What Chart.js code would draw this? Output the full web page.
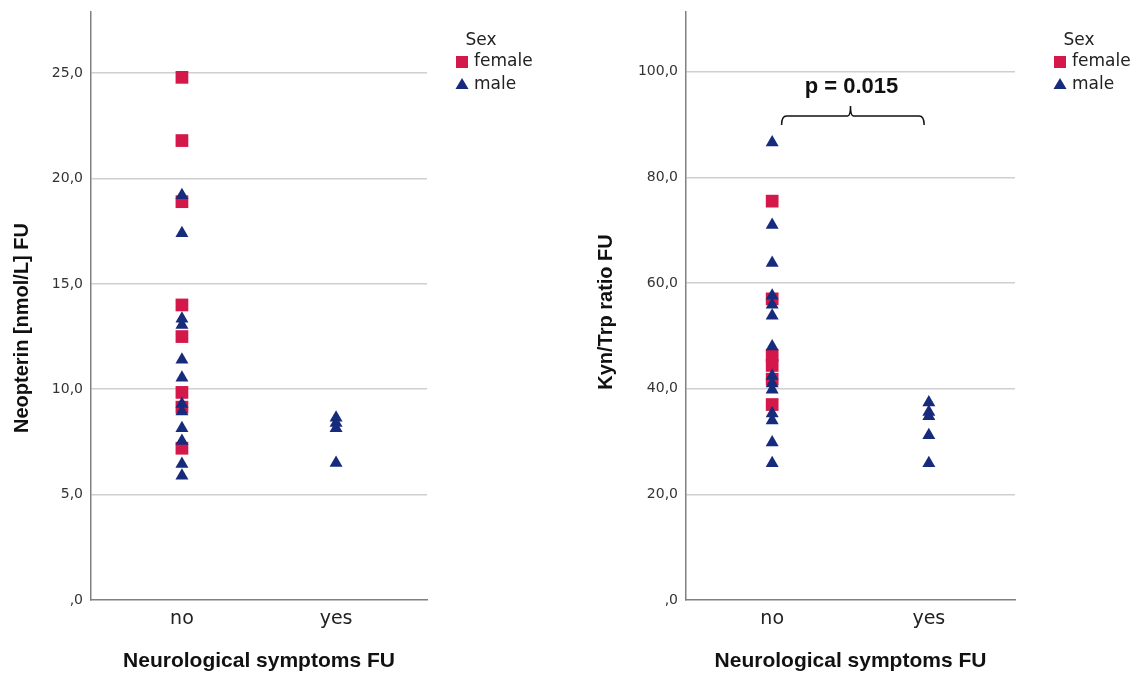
<!DOCTYPE html>
<html>
<head>
<meta charset="utf-8">
<script src="https://cdn.jsdelivr.net/npm/chart.js@4.4.1/dist/chart.umd.min.js"></script>
<style>
  html, body { margin: 0; padding: 0; background: #fff; }
  #wrap { position: relative; width: 1137px; height: 674px; }
  .box { position: absolute; top: 0; height: 674px; }
  #boxL { left: 0; width: 568px; }
  #boxR { left: 568px; width: 569px; }
</style>
</head>
<body>
<div id="wrap">
  <div class="box" id="boxL"><canvas id="chartNeo"></canvas></div>
  <div class="box" id="boxR"><canvas id="chartKyn"></canvas></div>
</div>
<script>
// ==== Données ====
const categories = ['no', 'yes'];
const sexLabels = ['female', 'male'];

// Neopterin [nmol/L] FU
const neoFemaleNo = [24.8, 21.8, 18.9, 14.0, 12.5, 9.85, 9.15, 7.2];
const neoMaleNo = [19.2, 17.4, 13.35, 13.05, 11.4, 10.55, 9.3, 8.95, 8.15, 7.55, 6.45, 5.9];
const neoFemaleYes = [];
const neoMaleYes = [8.65, 8.4, 8.15, 6.5];
const neoTicks = [0, 5, 10, 15, 20, 25];

// Kyn/Trp ratio FU
const kynFemaleNo = [75.5, 57.0, 46.3, 44.4, 41.8, 37.0];
const kynMaleNo = [86.6, 71.0, 63.8, 57.6, 55.9, 53.8, 48.0, 42.4, 41.0, 39.8, 35.3, 34.0, 29.8, 25.9];
const kynFemaleYes = [];
const kynMaleYes = [37.4, 35.6, 34.8, 31.2, 25.9];
const kynTicks = [0, 20, 40, 60, 80, 100];

// crochet de significativité (no -> yes)
const bracketX = [0.06, 0.5, 0.97];
const bracketY = 91.6;
const pLabel = 'p = 0.015';

// ==== Styles ====
const RED = '#D4184A';
const NAVY = '#172B7C';
const GRID = '#cfcfcf';
const AXIS = '#808080';

function toPoints(noVals, yesVals) {
  return noVals.map(v => ({ x: 0, y: v })).concat(yesVals.map(v => ({ x: 1, y: v })));
}

function fmtTick(v) {
  return v === 0 ? ',0' : v.toFixed(1).replace('.', ',');
}

// Légende + titre Y dessinés à la main
function overlayPlugin(cfg) {
  return {
    id: 'overlay',
    afterDraw(chart) {
      const ctx = chart.ctx;
      ctx.save();
      // titre axe Y
      ctx.translate(cfg.titleX, cfg.titleY);
      ctx.rotate(-Math.PI / 2);
      ctx.font = 'bold 20px "Liberation Sans", Arial, sans-serif';
      ctx.fillStyle = '#111';
      ctx.textAlign = 'center';
      ctx.textBaseline = 'middle';
      ctx.fillText(cfg.title, 0, 0);
      ctx.restore();

      // légende
      ctx.save();
      ctx.font = '17px "DejaVu Sans", sans-serif';
      ctx.fillStyle = '#222';
      ctx.textBaseline = 'middle';
      ctx.textAlign = 'center';
      ctx.fillText('Sex', cfg.legX + 19, 41);
      ctx.textAlign = 'left';
      // carré
      ctx.fillStyle = RED;
      ctx.fillRect(cfg.legX - 6, 56, 12, 12);
      // triangle
      ctx.fillStyle = NAVY;
      ctx.beginPath();
      ctx.moveTo(cfg.legX, 78);
      ctx.lineTo(cfg.legX + 6.5, 89);
      ctx.lineTo(cfg.legX - 6.5, 89);
      ctx.closePath();
      ctx.fill();
      ctx.fillStyle = '#222';
      ctx.fillText(sexLabels[0], cfg.legX + 12, 62);
      ctx.fillText(sexLabels[1], cfg.legX + 12, 85);
      ctx.restore();

      // crochet p-value
      if (cfg.bracket) {
        const xs = chart.scales.x, ys = chart.scales.y;
        const x0 = xs.getPixelForValue(bracketX[0]);
        const xm = xs.getPixelForValue(bracketX[1]);
        const x1 = xs.getPixelForValue(bracketX[2]);
        const yb = ys.getPixelForValue(bracketY);
        ctx.save();
        ctx.strokeStyle = '#111';
        ctx.lineWidth = 1.5;
        ctx.beginPath();
        ctx.moveTo(x0, yb + 9);
        ctx.quadraticCurveTo(x0, yb, x0 + 5, yb);
        ctx.lineTo(xm - 3, yb);
        ctx.quadraticCurveTo(xm, yb, xm, yb - 10);
        ctx.quadraticCurveTo(xm, yb, xm + 3, yb);
        ctx.lineTo(x1 - 5, yb);
        ctx.quadraticCurveTo(x1, yb, x1, yb + 9);
        ctx.stroke();
        ctx.font = 'bold 22px "Liberation Sans", Arial, sans-serif';
        ctx.fillStyle = '#111';
        ctx.textAlign = 'center';
        ctx.textBaseline = 'middle';
        ctx.fillText(pLabel, xm + 1, yb - 29);
        ctx.restore();
      }
    }
  };
}

function makeChart(id, opts) {
  const ctx = document.getElementById(id).getContext('2d');
  return new Chart(ctx, {
    type: 'scatter',
    data: {
      datasets: [
        {
          label: sexLabels[0],
          data: opts.female,
          pointStyle: 'rect',
          pointRadius: 9,
          pointHoverRadius: 9,
          backgroundColor: RED,
          borderColor: RED,
          borderWidth: 0,
          order: 2
        },
        {
          label: sexLabels[1],
          data: opts.male,
          pointStyle: 'triangle',
          pointRadius: 7.5,
          pointHoverRadius: 7.5,
          backgroundColor: NAVY,
          borderColor: NAVY,
          borderWidth: 0,
          order: 1
        }
      ]
    },
    options: {
      responsive: true,
      maintainAspectRatio: false,
      animation: false,
      layout: { padding: { left: 0, top: 12, right: opts.padRight, bottom: 0 } },
      plugins: { legend: { display: false }, tooltip: { enabled: false } },
      scales: {
        x: {
          type: 'linear',
          min: opts.xMin,
          max: opts.xMax,
          afterBuildTicks: s => { s.ticks = categories.map((c, i) => ({ value: i })); },
          afterFit: s => { s.height = 74; s.paddingLeft = 0; s.paddingRight = 0; },
          grid: { display: false, drawTicks: false },
          border: { color: AXIS, width: 1.5 },
          ticks: {
            padding: 8,
            color: '#222',
            font: { family: '"DejaVu Sans", sans-serif', size: 19 },
            callback: v => categories[v]
          },
          title: {
            display: true,
            text: 'Neurological symptoms FU',
            color: '#111',
            padding: { top: 0, bottom: 0 },
            font: { family: '"Liberation Sans", Arial, sans-serif', size: 21, weight: 'bold', lineHeight: 1.2 }
          }
        },
        y: {
          min: 0,
          max: opts.yMax,
          afterBuildTicks: s => { s.ticks = opts.ticks.map(v => ({ value: v })); },
          afterFit: s => { s.width = opts.yWidth; s.paddingTop = 0; s.paddingBottom = 0; },
          grid: {
            drawTicks: false,
            lineWidth: 1.5,
            color: c => (c.tick && c.tick.value === 0 ? 'rgba(0,0,0,0)' : GRID)
          },
          border: { color: AXIS, width: 1.5 },
          ticks: {
            padding: 8,
            color: '#333',
            font: { family: '"DejaVu Sans", sans-serif', size: 14 },
            callback: v => fmtTick(v)
          }
        }
      }
    },
    plugins: [overlayPlugin(opts.overlay)]
  });
}

makeChart('chartNeo', {
  female: toPoints(neoFemaleNo, neoFemaleYes),
  male: toPoints(neoMaleNo, neoMaleYes),
  ticks: neoTicks,
  yMax: 27.9,
  xMin: -0.59, xMax: 1.59,
  yWidth: 91,
  padRight: 141,
  overlay: { title: 'Neopterin [nmol/L] FU', titleX: 22, titleY: 328, legX: 462, bracket: false }
});

makeChart('chartKyn', {
  female: toPoints(kynFemaleNo, kynFemaleYes),
  male: toPoints(kynMaleNo, kynMaleYes),
  ticks: kynTicks,
  yMax: 111.3,
  xMin: -0.55, xMax: 1.55,
  yWidth: 118,
  padRight: 122,
  overlay: { title: 'Kyn/Trp ratio FU', titleX: 38, titleY: 312, legX: 492, bracket: true }
});
</script>
</body>
</html>
